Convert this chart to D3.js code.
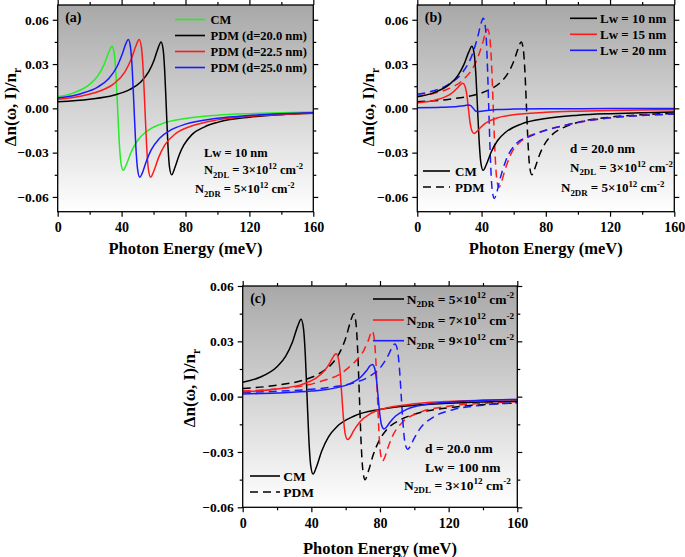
<!DOCTYPE html>
<html><head><meta charset="utf-8">
<script src="https://cdn.jsdelivr.net/npm/d3@7"></script>
<style>
body{margin:0;background:#fff;}
text{font-family:"Liberation Serif","Times New Roman",serif;font-weight:bold;fill:#000;}
</style>
</head><body>
<svg id="chart" width="685" height="557"></svg>
<script>
// ---------------- DATA ----------------
const energyTicks = [0, 40, 80, 120, 160];
const energyMinorTicks = [20, 60, 100, 140];
const dnTicks = [-0.06, -0.03, 0, 0.03, 0.06];
const dnMinorTicks = [-0.045, -0.015, 0.015, 0.045];

// CM, d = 20 nm, Lw = 10 nm, N2DR = 5e12  (green in a, black solid in b and c)
const cmBase = [[0,0.0078],[10,0.0105],[20,0.0162],[25,0.0218],[29,0.0296],[32,0.0381],[34,0.042],[35.4,0.0371],[36.5,0.0222],[37.5,0],[38.5,-0.0222],[39.6,-0.0371],[41,-0.042],[43,-0.038],[46,-0.0296],[50,-0.0218],[55,-0.0162],[65,-0.0105],[80,-0.0069],[100,-0.0047],[120,-0.0036],[140,-0.0029],[160,-0.0024]];
// PDM, d = 20 nm (black in a, black dashed in b and c)
const pdmD20 = [[0,0.0044],[20,0.0062],[35,0.0089],[45,0.0127],[52,0.0178],[57,0.0248],[60,0.0317],[62.5,0.0397],[64.7,0.045],[66,0.0399],[67,0.025],[68,0],[69,-0.025],[70,-0.0399],[71.3,-0.045],[73.5,-0.0397],[76,-0.0317],[79,-0.0248],[84,-0.0178],[92,-0.0125],[100,-0.0095],[120,-0.006],[140,-0.0043],[160,-0.0034]];
// PDM, d = 22.5 nm (red in a)
const pdmD225 = [[0,0.0061],[15,0.0084],[25,0.0112],[35,0.0166],[42,0.0246],[46,0.0332],[49,0.0424],[51,0.0466],[52.5,0.0406],[53.6,0.024],[54.6,0],[55.6,-0.024],[56.7,-0.0406],[58.2,-0.0466],[60.2,-0.0424],[63.2,-0.0332],[67.2,-0.0246],[74.2,-0.0168],[84.2,-0.0118],[100,-0.0078],[120,-0.0054],[140,-0.0041],[160,-0.0033]];
// PDM, d = 25 nm (blue in a)
const pdmD25 = [[0,0.007],[15,0.0101],[25,0.0144],[32,0.0202],[37,0.028],[40.6,0.0373],[42.8,0.0442],[44.2,0.0466],[45.6,0.0411],[46.7,0.0257],[47.8,0],[48.9,-0.0257],[50,-0.0411],[51.4,-0.0466],[52.8,-0.0442],[55,-0.0373],[58.6,-0.028],[63.6,-0.0204],[70.6,-0.0148],[80,-0.0107],[100,-0.0067],[120,-0.0048],[140,-0.0037],[160,-0.003]];
// (b) CM, Lw = 15 nm and Lw = 20 nm
const cmLw15 = [[0,0.0037],[10,0.0053],[18,0.0081],[21.3,0.0102],[24.8,0.0136],[26.9,0.0161],[28.3,0.017],[29.7,0.015],[30.8,0.0094],[31.8,0],[32.8,-0.0094],[33.9,-0.015],[35.3,-0.017],[36.7,-0.0161],[38.8,-0.0136],[42.3,-0.0102],[49.3,-0.0067],[59.8,-0.0044],[80,-0.0027],[100,-0.0019],[120,-0.0014],[140,-0.0011],[160,-0.0009]];
const cmLw20 = [[0,0.0004],[15,0.0007],[25,0.0012],[28.8,0.0018],[31.8,0.0022],[33.3,0.0018],[34.8,0],[36.3,-0.0018],[37.8,-0.0022],[40.8,-0.0018],[44.8,-0.0013],[50,-0.0008],[60,-0.0005],[80,-0.0003],[120,-0.00015],[160,-0.0001]];
// (b) PDM, Lw = 15 nm and Lw = 20 nm
const pdmLw15 = [[0,0.0082],[10,0.0101],[20,0.0135],[28,0.0188],[36.8,0.0321],[40.3,0.0428],[42.4,0.0506],[43.8,0.0535],[45.2,0.0472],[46.25,0.0295],[47.3,0],[48.35,-0.0295],[49.4,-0.0472],[50.8,-0.0535],[52.2,-0.0506],[54.3,-0.0428],[57.8,-0.0321],[64.8,-0.022],[75.3,-0.0165],[90,-0.012],[110,-0.0078],[130,-0.0055],[160,-0.0038]];
const pdmLw20 = [[0,0.0095],[10,0.0119],[20,0.0166],[28,0.0241],[34.3,0.0366],[37.7,0.0488],[39.7,0.0577],[41.1,0.061],[42.5,0.0538],[43.5,0.0336],[44.5,0],[45.5,-0.0336],[46.5,-0.0538],[47.9,-0.061],[49.3,-0.0577],[51.3,-0.0488],[54.7,-0.0366],[61.5,-0.024],[70,-0.019],[80,-0.0148],[90,-0.012],[100,-0.0095],[120,-0.0064],[140,-0.0048],[160,-0.0038]];
// (c) CM and PDM, N2DR = 7e12 and 9e12
const cmN7 = [[0,0.0027],[20,0.0042],[35,0.0068],[42,0.0096],[47.6,0.014],[51,0.0186],[53,0.022],[54.4,0.0233],[55.8,0.0206],[56.8,0.0128],[57.8,0],[58.8,-0.0128],[59.8,-0.0206],[61.2,-0.0233],[62.6,-0.022],[64.6,-0.0186],[68,-0.014],[74.8,-0.009],[85,-0.0059],[100,-0.0039],[120,-0.0026],[140,-0.002],[160,-0.0016]];
const pdmN7 = [[0,0.003],[20,0.0042],[40,0.0068],[48,0.009],[56,0.0118],[62,0.016],[67,0.0205],[70.5,0.025],[73,0.03],[75.5,0.0355],[76.7,0.031],[77.6,0.0193],[78.5,0],[79.4,-0.0193],[80.3,-0.0309],[81.5,-0.035],[82.7,-0.0331],[84.5,-0.028],[87.5,-0.021],[93.5,-0.0135],[102.5,-0.0088],[120,-0.0052],[140,-0.0036],[160,-0.0027]];
const cmN9 = [[0,0.0015],[20,0.002],[40,0.003],[55,0.0049],[62,0.0068],[68.7,0.0105],[72.1,0.014],[74.1,0.0166],[75.5,0.0175],[76.9,0.0154],[77.9,0.0096],[78.9,0],[79.9,-0.0096],[80.9,-0.0154],[82.3,-0.0175],[83.7,-0.0166],[85.7,-0.014],[89.1,-0.0105],[95.9,-0.0068],[106.1,-0.0044],[120,-0.003],[140,-0.002],[160,-0.0015]];
const pdmN9 = [[0,0.0023],[20,0.0029],[40,0.004],[55,0.0056],[65,0.0076],[73.9,0.011],[81.3,0.0171],[85,0.0228],[87.2,0.027],[88.7,0.0285],[90.2,0.0252],[91.3,0.0157],[92.4,0],[93.5,-0.0157],[94.6,-0.0252],[96.1,-0.0285],[97.6,-0.027],[99.8,-0.0228],[103.5,-0.0171],[110.9,-0.0112],[122,-0.0072],[140,-0.0046],[160,-0.0032]];

// ---------------- LAYOUT ----------------
const svg = d3.select('#chart');
const defs = svg.append('defs');
const grad = defs.append('linearGradient').attr('id','bg')
  .attr('x1',0).attr('y1',0).attr('x2',0).attr('y2',1);
grad.append('stop').attr('offset','0%').attr('stop-color','#a8a8a8');
grad.append('stop').attr('offset','100%').attr('stop-color','#ffffff');

const GREEN = '#22ee22', RED = '#ff1a1a', BLUE = '#1a1aff', BLACK = '#000';
const DASH = '8,5';

const panels = [
  { id:'a', left:57.7, right:313.3, top:5, bottom:211.7, yDomain:[-0.07,0.07],
    titleX:16, titleY:107, tickLabelY:232, axisTitleY:254,
    series:[
      {data:cmBase, color:GREEN},
      {data:pdmD20, color:BLACK},
      {data:pdmD225, color:RED},
      {data:pdmD25, color:BLUE}] },
  { id:'b', left:417.3, right:674.3, top:5, bottom:211.7, yDomain:[-0.07,0.07],
    titleX:374, titleY:107, tickLabelY:232, axisTitleY:254,
    series:[
      {data:pdmD20, color:BLACK, dash:true},
      {data:pdmLw15, color:RED, dash:true},
      {data:pdmLw20, color:BLUE, dash:true},
      {data:cmBase, color:BLACK},
      {data:cmLw15, color:RED},
      {data:cmLw20, color:BLUE}] },
  { id:'c', left:242.7, right:517.3, top:286, bottom:507.3, yDomain:[-0.06,0.06],
    titleX:195, titleY:388, tickLabelY:528, axisTitleY:554,
    series:[
      {data:pdmD20, color:BLACK, dash:true},
      {data:pdmN7, color:RED, dash:true},
      {data:pdmN9, color:BLUE, dash:true},
      {data:cmBase, color:BLACK},
      {data:cmN7, color:RED},
      {data:cmN9, color:BLUE}] }
];

function rich(g, x, y, parts, size, anchor) {
  const t = g.append('text').attr('x', x).attr('y', y).attr('font-size', size)
    .attr('text-anchor', anchor || 'start');
  let shift = 0;
  parts.forEach(p => {
    const [s, kind] = Array.isArray(p) ? p : [p, ''];
    let target = 0, fs = size;
    if (kind === 'sub') { target = size*0.28; fs = size*0.68; }
    if (kind === 'sup') { target = -size*0.38; fs = size*0.68; }
    t.append('tspan').attr('dy', target - shift).attr('font-size', fs).text(s);
    shift = target;
  });
  return t;
}

const fmt = d3.format('.2f');

panels.forEach(p => {
  const x = d3.scaleLinear().domain([0,160]).range([p.left, p.right]);
  const y = d3.scaleLinear().domain(p.yDomain).range([p.bottom, p.top]);
  const g = svg.append('g');
  g.append('rect').attr('x',p.left).attr('y',p.top)
    .attr('width',p.right-p.left).attr('height',p.bottom-p.top).attr('fill','url(#bg)');
  defs.append('clipPath').attr('id','clip'+p.id).append('rect')
    .attr('x',p.left).attr('y',p.top).attr('width',p.right-p.left).attr('height',p.bottom-p.top);
  const line = d3.line().x(d=>x(d[0])).y(d=>y(d[1])).curve(d3.curveMonotoneX);
  const cg = g.append('g').attr('clip-path','url(#clip'+p.id+')');
  p.series.forEach(s => {
    cg.append('path').datum(s.data).attr('d', line)
      .attr('fill','none').attr('stroke', s.color).attr('stroke-width',1.5)
      .attr('stroke-dasharray', s.dash ? DASH : null);
  });
  const styleAxis = sel => { sel.select('.domain').remove();
    sel.selectAll('line').attr('stroke','#000').attr('stroke-width',1.2);
    sel.selectAll('text').attr('font-size',14).attr('font-family','Liberation Serif').attr('font-weight','bold'); };
  g.append('g').attr('transform',`translate(0,${p.bottom})`)
    .call(d3.axisBottom(x).tickValues(energyTicks).tickSize(5).tickPadding(5).tickFormat(d3.format('d')))
    .call(styleAxis).call(s=>s.selectAll('text').attr('y',null).attr('dy',null)
      .attr('transform',`translate(0,${p.tickLabelY-p.bottom})`));
  g.append('g').attr('transform',`translate(0,${p.bottom})`)
    .call(d3.axisBottom(x).tickValues(energyMinorTicks).tickSize(3).tickFormat('')).call(styleAxis);
  g.append('g').attr('transform',`translate(0,${p.top})`)
    .call(d3.axisTop(x).tickValues(energyTicks).tickSize(5).tickFormat('')).call(styleAxis);
  g.append('g').attr('transform',`translate(0,${p.top})`)
    .call(d3.axisTop(x).tickValues(energyMinorTicks).tickSize(3).tickFormat('')).call(styleAxis);
  g.append('g').attr('transform',`translate(${p.left},0)`)
    .call(d3.axisLeft(y).tickValues(dnTicks).tickSize(5).tickPadding(4).tickFormat(v => fmt(v)))
    .call(styleAxis).call(s=>s.selectAll('text').attr('font-size',13.5));
  g.append('g').attr('transform',`translate(${p.left},0)`)
    .call(d3.axisLeft(y).tickValues(dnMinorTicks).tickSize(3).tickFormat('')).call(styleAxis);
  g.append('g').attr('transform',`translate(${p.right},0)`)
    .call(d3.axisRight(y).tickValues(dnTicks).tickSize(5).tickFormat('')).call(styleAxis);
  g.append('g').attr('transform',`translate(${p.right},0)`)
    .call(d3.axisRight(y).tickValues(dnMinorTicks).tickSize(3).tickFormat('')).call(styleAxis);
  g.append('rect').attr('x',p.left).attr('y',p.top)
    .attr('width',p.right-p.left).attr('height',p.bottom-p.top)
    .attr('fill','none').attr('stroke','#000').attr('stroke-width',1.3);
  g.append('text').attr('x',(p.left+p.right)/2).attr('y',p.axisTitleY)
    .attr('text-anchor','middle').attr('font-size',16.5).text('Photon Energy (meV)');
  const yt = rich(g, 0, 0, ['Δn(ω, I)/n', ['r','sub']], 17, 'middle');
  yt.attr('transform',`translate(${p.titleX},${p.titleY}) rotate(-90)`);
  g.append('text').attr('x', p.left+7.5).attr('y', p.top+17).attr('font-size',14).text('('+p.id+')');
});

// ---------------- LEGENDS & NOTES ----------------
function legendLine(x1, x2, yy, color, dash) {
  svg.append('line').attr('x1',x1).attr('x2',x2).attr('y1',yy).attr('y2',yy)
    .attr('stroke',color).attr('stroke-width',1.6).attr('stroke-dasharray', dash ? DASH : null);
}
// (a)
const FSA = 12.5;
const legA = [['CM',GREEN],['PDM (d=20.0 nm)',BLACK],['PDM (d=22.5 nm)',RED],['PDM (d=25.0 nm)',BLUE]];
legA.forEach((d,i) => {
  const yy = 19.5 + i*16;
  legendLine(175, 205, yy, d[1]);
  rich(svg, 210.5, yy+4.5, [d[0]], FSA);
});
rich(svg, 204, 157, ['Lw = 10 nm'], FSA);
rich(svg, 204, 174, ['N',['2DL','sub'],' = 3×10',['12','sup'],' cm',['-2','sup']], FSA);
rich(svg, 195, 193, ['N',['2DR','sub'],' = 5×10',['12','sup'],' cm',['-2','sup']], FSA);
// (b)
const FSB = 13;
const legB = [['Lw = 10 nm',BLACK],['Lw = 15 nm',RED],['Lw = 20 nm',BLUE]];
legB.forEach((d,i) => {
  const yy = 18.3 + i*16;
  legendLine(570, 597, yy, d[1]);
  rich(svg, 600, yy+4.5, [d[0]], FSB);
});
legendLine(423, 450, 171, BLACK);
rich(svg, 455, 175.5, ['CM'], FSB);
legendLine(423, 450, 187, BLACK, true);
rich(svg, 455, 191.5, ['PDM'], FSB);
rich(svg, 570, 152.7, ['d = 20.0 nm'], FSB);
rich(svg, 570, 171.5, ['N',['2DL','sub'],' = 3×10',['12','sup'],' cm',['-2','sup']], FSB);
rich(svg, 561, 192, ['N',['2DR','sub'],' = 5×10',['12','sup'],' cm',['-2','sup']], FSB);
// (c)
const FSC = 13.5;
const legC = [['5',BLACK],['7',RED],['9',BLUE]];
legC.forEach((d,i) => {
  const yy = [299, 320, 340.7][i];
  legendLine(373, 404, yy, d[1]);
  rich(svg, 406.7, yy+4.5, ['N',['2DR','sub'],' = '+d[0]+'×10',['12','sup'],' cm',['-2','sup']], FSC);
});
legendLine(250, 280, 476, BLACK);
rich(svg, 283.3, 480.5, ['CM'], FSC);
legendLine(250, 280, 492, BLACK, true);
rich(svg, 283.3, 496.5, ['PDM'], FSC);
rich(svg, 425, 452.5, ['d = 20.0 nm'], FSC);
rich(svg, 425, 471.7, ['Lw = 100 nm'], FSC);
rich(svg, 404, 489.5, ['N',['2DL','sub'],' = 3×10',['12','sup'],' cm',['-2','sup']], FSC);
</script>
</body></html>
